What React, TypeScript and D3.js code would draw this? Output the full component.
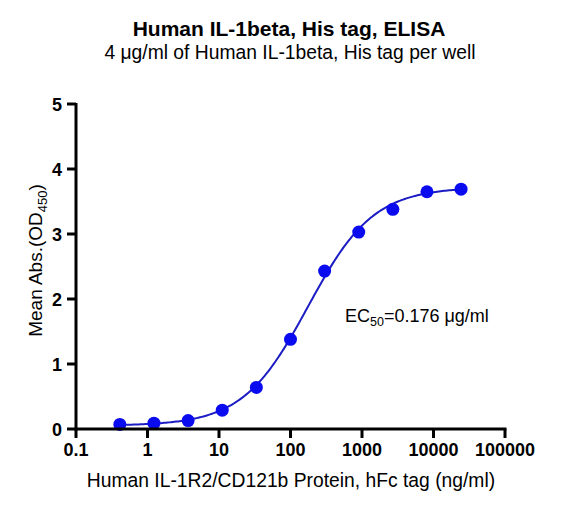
import React from 'react';
import * as d3 from 'd3';

// concentrations (ng/ml) and mean OD450 readings
const concentrations = [0.41, 1.23, 3.7, 11.1, 33.3, 100, 300, 900, 2700, 8100, 24300];
const meanAbs = [0.07, 0.09, 0.13, 0.29, 0.64, 1.38, 2.43, 3.03, 3.38, 3.65, 3.69];

const xTicks = [0.1, 1, 10, 100, 1000, 10000, 100000];
const yTicks = [0, 1, 2, 3, 4, 5];

// 4PL fit parameters
const fitBottom = 0.05;
const fitTop = 3.72;
const fitEC50 = 176;
const fitHill = 0.95;

const W = 562;
const H = 506;
const margin = { top: 104, right: 57, bottom: 77, left: 76 };

export default function App() {
  const x = d3.scaleLog().domain([0.1, 100000]).range([margin.left, W - margin.right]);
  const y = d3.scaleLinear().domain([0, 5]).range([H - margin.bottom, margin.top]);

  const fit = (c: number) => fitBottom + (fitTop - fitBottom) / (1 + Math.pow(fitEC50 / c, fitHill));
  const lo = Math.log10(concentrations[0]);
  const hi = Math.log10(concentrations[concentrations.length - 1]);
  const curveX = d3.range(0, 201).map(i => Math.pow(10, lo + (i / 200) * (hi - lo)));
  const line = d3.line<number>().x(c => x(c)).y(c => y(fit(c)));

  const font = 'Arial, "Liberation Sans", Helvetica, sans-serif';
  const x0 = margin.left;
  const y0 = H - margin.bottom;

  return (
    <svg width={W} height={H} style={{ position: 'absolute', left: 0, top: 0, background: '#fff' }} fontFamily={font}>
      <text x={289} y={36} textAnchor="middle" fontSize={21} fontWeight="bold">Human IL-1beta, His tag, ELISA</text>
      <text x={290} y={59} textAnchor="middle" fontSize={19.3}>4 μg/ml of Human IL-1beta, His tag per well</text>

      <path d={line(curveX) || ''} fill="none" stroke="#1c1cc4" strokeWidth={2} />
      {concentrations.map((c, i) => (
        <circle key={i} cx={x(c)} cy={y(meanAbs[i])} r={6.5} fill="#0b0bef" />
      ))}

      {/* axes */}
      <line x1={x0} x2={x0} y1={y(5) - 1} y2={y0 + 1.5} stroke="#000" strokeWidth={3} />
      <line x1={x0 - 1.5} x2={x(100000) + 1.5} y1={y0} y2={y0} stroke="#000" strokeWidth={3} />
      {yTicks.map(t => (
        <g key={t}>
          <line x1={x0 - 9} x2={x0} y1={y(t)} y2={y(t)} stroke="#000" strokeWidth={3} />
          <text x={x0 - 14} y={y(t) + 6.5} textAnchor="end" fontSize={18} fontWeight="bold">{t}</text>
        </g>
      ))}
      {xTicks.map(t => (
        <g key={t}>
          <line x1={x(t)} x2={x(t)} y1={y0} y2={y0 + 9} stroke="#000" strokeWidth={3} />
          <text x={x(t)} y={y0 + 27} textAnchor="middle" fontSize={18} fontWeight="bold">{String(t)}</text>
        </g>
      ))}

      <text transform={`translate(42,${(y(5) + y0) / 2 - 6}) rotate(-90)`} textAnchor="middle" fontSize={19}>
        Mean Abs.(OD<tspan fontSize={13} dy={5}>450</tspan><tspan dy={-5}>)</tspan>
      </text>
      <text x={291} y={487} textAnchor="middle" fontSize={19.3}>Human IL-1R2/CD121b Protein, hFc tag (ng/ml)</text>

      <text x={345} y={322} fontSize={18}>
        EC<tspan fontSize={12.5} dy={4}>50</tspan><tspan dy={-4}>=0.176 μg/ml</tspan>
      </text>
    </svg>
  );
}
